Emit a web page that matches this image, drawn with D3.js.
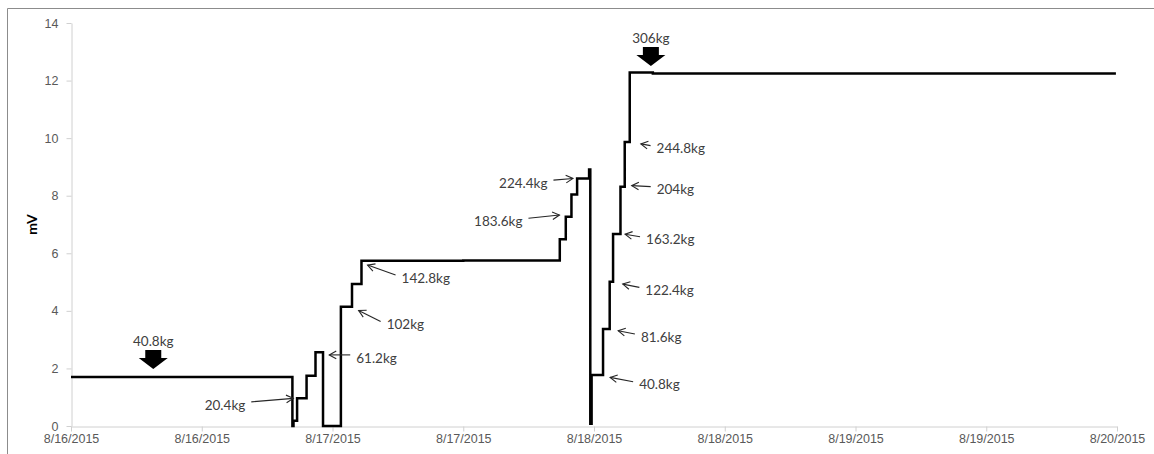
<!DOCTYPE html>
<html>
<head>
<meta charset="utf-8">
<script src="https://cdn.jsdelivr.net/npm/d3@7"></script>
<style>
  body { margin: 0; background: #fff; }
  svg { display: block; font-family: Lato, "Open Sans", sans-serif; }
  .axis .domain, .axis line { stroke: #d0d0d0; }
  .axis text { fill: #595959; font-size: 12.5px; }
</style>
</head>
<body>
<div id="chart"></div>
<script>
// hours since 8/16/2015 00:00 and the mV reading starting there (step after)
const hours = [0, 20.32, 20.42, 20.75, 21.62, 22.44, 23.13, 24.77, 25.79, 26.66, 36.0, 44.86,
  45.41, 45.93, 46.45, 47.55, 47.66, 47.78, 48.83, 49.44, 49.75, 50.43, 50.82, 51.28, 53.4, 95.9];
const mV = [1.70, 0.0, 0.18, 0.96, 1.75, 2.56, 0.0, 4.14, 4.93, 5.74, 5.75, 6.49,
  7.27, 8.04, 8.60, 8.91, 0.08, 1.77, 3.37, 5.01, 6.67, 8.31, 9.87, 12.28, 12.25, 12.25];

const yTicks = [0, 2, 4, 6, 8, 10, 12, 14];

// load annotations: label, hour and mV the arrow points at
const annoLabels = ['20.4kg', '61.2kg', '102kg', '142.8kg', '183.6kg', '224.4kg',
  '40.8kg', '81.6kg', '122.4kg', '163.2kg', '204kg', '244.8kg'];
const annoHours = [20.40, 23.70, 26.40, 27.22, 44.83, 46.07, 49.48, 50.22, 50.64, 50.85, 51.46, 52.30];
const annoMV = [0.96, 2.47, 4.01, 5.59, 7.33, 8.60, 1.69, 3.31, 4.93, 6.66, 8.35, 9.80];

// big block arrows
const blockLabels = ['40.8kg', '306kg'];
const blockHours = [7.55, 53.22];
const blockMV = [1.98, 12.51];

const start = new Date(2015, 7, 16, 0, 0);
const toDate = h => new Date(start.getTime() + h * 3600 * 1000);
const data = hours.map((h, i) => ({ t: toDate(h), v: mV[i] }));

const width = 1154, height = 454;
const svg = d3.select('#chart').append('svg')
  .attr('width', width)
  .attr('height', height);

// chart frame (only top and left edges are in the picture)
svg.append('path')
  .attr('d', 'M7.5,454 V8.5 H1154')
  .attr('fill', 'none')
  .attr('stroke', '#8c8c8c')
  .attr('stroke-width', 1);

const x = d3.scaleTime()
  .domain([start, toDate(96)])
  .range([71, 1117]);

const y = d3.scaleLinear()
  .domain([0, 14])
  .range([426, 23]);

// X AXIS
svg.append('g')
  .attr('class', 'axis')
  .attr('transform', 'translate(0,426.5)')
  .call(d3.axisBottom(x)
    .ticks(d3.timeHour.every(12))
    .tickFormat(d3.timeFormat('%-m/%-d/%Y'))
    .tickSize(5)
    .tickSizeOuter(0)
    .tickPadding(3));

// Y AXIS
svg.append('g')
  .attr('class', 'axis')
  .attr('transform', 'translate(71.5,0)')
  .call(d3.axisLeft(y)
    .tickValues(yTicks)
    .tickSize(5)
    .tickSizeOuter(0)
    .tickPadding(8));

svg.append('text')
  .attr('transform', `translate(37,${y(7)}) rotate(-90)`)
  .attr('text-anchor', 'middle')
  .attr('fill', '#000')
  .style('font-size', '14px')
  .style('font-weight', 'bold')
  .text('mV');

// the signal
const line = d3.line()
  .x(d => x(d.t))
  .y(d => y(d.v))
  .curve(d3.curveStepAfter);

svg.append('path')
  .datum(data)
  .attr('fill', 'none')
  .attr('stroke', '#000')
  .attr('stroke-width', 2.5)
  .attr('stroke-linejoin', 'miter')
  .attr('d', line);

///////////////////////////////////////////////////////
// thin arrows with labels
///////////////////////////////////////////////////////
// tail offset from tip
const tails = [[-42, 3.5], [21, 0], [22, 11], [28, 10], [-31, 3.3], [-19.5, 1.7],
  [23, 4.4], [16.7, 3.3], [16.6, 3.3], [15, 2.4], [19, 1], [9.7, 1.7]];

const annoG = svg.append('g');
annoLabels.forEach((lab, i) => {
  const tx = x(toDate(annoHours[i])), ty = y(annoMV[i]);
  const [dx, dy] = tails[i];
  const ex = tx + dx, ey = ty + dy;
  const ang = Math.atan2(dy, dx);
  const hl = 8, spread = 0.5;
  annoG.append('line')
    .attr('x1', tx).attr('y1', ty).attr('x2', ex).attr('y2', ey)
    .attr('stroke', '#262626').attr('stroke-width', 1.1);
  annoG.append('path')
    .attr('d', `M${tx + hl * Math.cos(ang - spread)},${ty + hl * Math.sin(ang - spread)} L${tx},${ty} L${tx + hl * Math.cos(ang + spread)},${ty + hl * Math.sin(ang + spread)}`)
    .attr('fill', 'none')
    .attr('stroke', '#262626').attr('stroke-width', 1.1);
  const left = dx < 0;
  annoG.append('text')
    .attr('x', left ? ex - 6 : ex + 6)
    .attr('y', ey + 3)
    .attr('dy', '0.35em')
    .attr('text-anchor', left ? 'end' : 'start')
    .attr('fill', '#404040')
    .style('font-size', '13.5px')
    .text(lab);
});

///////////////////////////////////////////////////////
// block arrows
///////////////////////////////////////////////////////
blockLabels.forEach((lab, i) => {
  const tx = x(toDate(blockHours[i])), ty = y(blockMV[i]);
  svg.append('path')
    .attr('d', `M${tx},${ty} L${tx - 14.5},${ty - 11} L${tx - 8},${ty - 11} L${tx - 8},${ty - 19} L${tx + 8},${ty - 19} L${tx + 8},${ty - 11} L${tx + 14.5},${ty - 11} Z`)
    .attr('fill', '#000');
  svg.append('text')
    .attr('x', tx)
    .attr('y', ty - 28)
    .attr('dy', '0.35em')
    .attr('text-anchor', 'middle')
    .attr('fill', '#404040')
    .style('font-size', '13.5px')
    .text(lab);
});
</script>
</body>
</html>
